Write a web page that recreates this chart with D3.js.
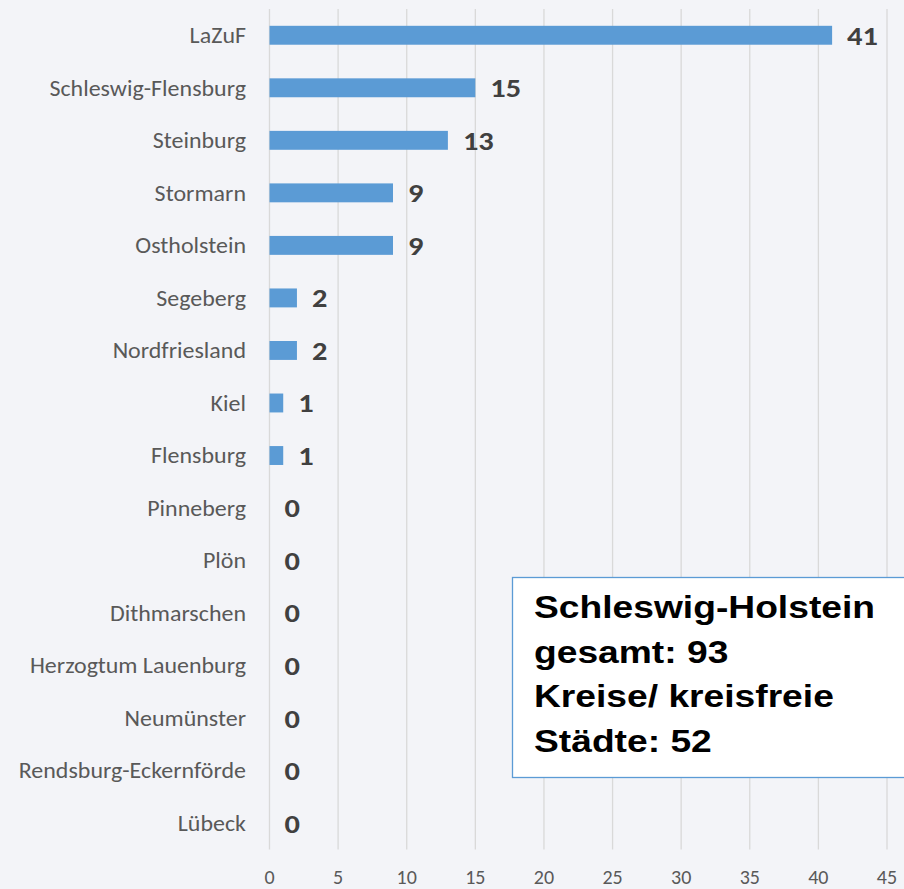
<!DOCTYPE html>
<html><head><meta charset="utf-8">
<script src="https://cdn.jsdelivr.net/npm/d3@7"></script>
<style>body{margin:0;background:#f3f4f8;}svg{display:block;}</style>
</head><body>
<script>
const categories = ["LaZuF","Schleswig-Flensburg","Steinburg","Stormarn","Ostholstein","Segeberg","Nordfriesland","Kiel","Flensburg","Pinneberg","Plön","Dithmarschen","Herzogtum Lauenburg","Neumünster","Rendsburg-Eckernförde","Lübeck"];
const values = [41,15,13,9,9,2,2,1,1,0,0,0,0,0,0,0];
const xTicks = [0,5,10,15,20,25,30,35,40,45];
const boxLines = ["Schleswig-Holstein","gesamt: 93","Kreise/ kreisfreie","Städte: 52"];

const W=904,H=889;
const svg=d3.select("body").append("svg").attr("width",W).attr("height",H);
svg.append("rect").attr("width",W).attr("height",H).attr("fill","#f3f4f8");
const x=d3.scaleLinear().domain([0,45]).range([269.5,887]);
const y=d3.scaleBand().domain(categories).range([9,849.5]).paddingInner(0.64).paddingOuter(0.32);
const font="Carlito, Lato, 'Liberation Sans', sans-serif";

svg.append("g").selectAll("line").data(xTicks).join("line")
 .attr("x1",d=>x(d)).attr("x2",d=>x(d)).attr("y1",9).attr("y2",849.5)
 .attr("stroke","#d9d9d9").attr("stroke-width",1.3);

svg.append("g").selectAll("rect").data(values).join("rect")
 .attr("x",x(0)).attr("y",(d,i)=>y(categories[i])).attr("width",d=>x(d)-x(0)).attr("height",y.bandwidth())
 .attr("fill","#5b9bd5");

svg.append("g").selectAll("text").data(categories).join("text")
 .attr("transform",d=>`translate(246,${y(d)+y.bandwidth()/2}) scale(1.09,1)`)
 .attr("dy","0.35em").attr("text-anchor","end")
 .attr("font-family",font).attr("font-size",22).attr("fill","#595959").text(d=>d);

svg.append("g").selectAll("text").data(values).join("text")
 .attr("transform",(d,i)=>`translate(${x(d)+15},${y(categories[i])+y.bandwidth()/2}) scale(1.17,1)`)
 .attr("dy","0.36em")
 .attr("font-family",font).attr("font-size",26).attr("font-weight","bold").attr("fill","#404040").text(d=>d);

svg.append("g").selectAll("text").data(xTicks).join("text")
 .attr("x",d=>x(d)).attr("y",884).attr("text-anchor","middle")
 .attr("font-family",font).attr("font-size",20).attr("fill","#595959").text(d=>d);

svg.append("rect").attr("x",512.5).attr("y",577.5).attr("width",420).attr("height",200)
 .attr("fill","#ffffff").attr("stroke","#5b9bd5").attr("stroke-width",1.3);
svg.append("g").selectAll("text").data(boxLines).join("text")
 .attr("transform",(d,i)=>`translate(534,${618+i*44.6}) scale(1.2,1)`)
 .attr("font-family","'Liberation Sans', Arial, sans-serif").attr("font-size",31).attr("font-weight","bold")
 .attr("fill","#000").text(d=>d);
</script>
</body></html>
